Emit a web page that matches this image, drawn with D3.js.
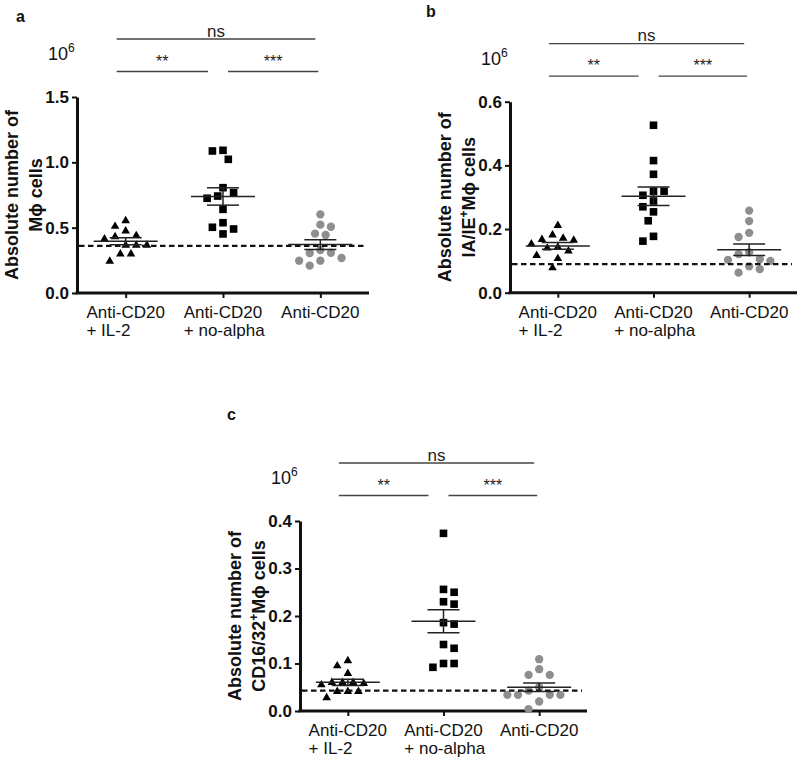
<!DOCTYPE html>
<html>
<head>
<meta charset="utf-8">
<script src="https://cdn.jsdelivr.net/npm/d3@7"></script>
<style>
  html, body { margin: 0; padding: 0; background: #fff; }
  svg { display: block; font-family: "Liberation Sans", Arial, sans-serif; }
</style>
</head>
<body>
<svg id="chart" width="800" height="759"></svg>
<script>
// ---------------- DATA (units of 10^6 cells) ----------------
const categories = ["Anti-CD20 + IL-2", "Anti-CD20 + no-alpha", "Anti-CD20"];
const categoryLine1 = ["Anti-CD20", "Anti-CD20", "Anti-CD20"];
const categoryLine2 = ["+ IL-2", "+ no-alpha", ""];

// Panel a: Mϕ cells
const aIL2     = [0.553, 0.510, 0.474, 0.439, 0.431, 0.413, 0.365, 0.365, 0.365, 0.298, 0.298, 0.243];
const aNoAlpha = [1.092, 1.087, 1.023, 0.806, 0.768, 0.742, 0.725, 0.640, 0.538, 0.503, 0.490, 0.452];
const aAnti    = [0.602, 0.523, 0.507, 0.454, 0.444, 0.329, 0.308, 0.306, 0.268, 0.247, 0.247, 0.209];
const aBaseline = 0.36;
const aTicks = [0, 0.5, 1.0, 1.5];

// Panel b: IA/IE+ Mϕ cells
const bIL2     = [0.211, 0.181, 0.171, 0.167, 0.165, 0.153, 0.143, 0.140, 0.131, 0.117, 0.107, 0.078];
const bNoAlpha = [0.526, 0.415, 0.372, 0.319, 0.319, 0.306, 0.288, 0.270, 0.254, 0.226, 0.177, 0.162];
const bAnti    = [0.258, 0.225, 0.188, 0.175, 0.127, 0.121, 0.105, 0.103, 0.100, 0.083, 0.074, 0.063];
const bBaseline = 0.09;
const bTicks = [0, 0.2, 0.4, 0.6];

// Panel c: CD16/32+ Mϕ cells
const cIL2     = [0.106, 0.095, 0.079, 0.060, 0.060, 0.060, 0.058, 0.055, 0.041, 0.041, 0.041, 0.028];
const cNoAlpha = [0.374, 0.256, 0.250, 0.230, 0.225, 0.186, 0.183, 0.140, 0.132, 0.100, 0.100, 0.092];
const cAnti    = [0.109, 0.088, 0.076, 0.076, 0.050, 0.043, 0.034, 0.034, 0.034, 0.034, 0.020, 0.004];
const cBaseline = 0.043;
const cTicks = [0, 0.1, 0.2, 0.3, 0.4];

// significance comparisons (category index pairs)
const comparisons = [
  { from: 0, to: 2, label: "ns",  level: 0 },
  { from: 0, to: 1, label: "**",  level: 1 },
  { from: 1, to: 2, label: "***", level: 1 }
];

// ---------------- LAYOUT ----------------
const panels = [
  { id: "a", series: [aIL2, aNoAlpha, aAnti], baseline: aBaseline, ticks: aTicks,
    x0: 77, yTop: 97, yBot: 293, W: 292, labelX: 16, labelY: 22,
    yLabel1: [{ t: "Absolute number of" }], yLabel2: [{ t: "Mϕ cells" }] },
  { id: "b", series: [bIL2, bNoAlpha, bAnti], baseline: bBaseline, ticks: bTicks,
    x0: 510, yTop: 101.7, yBot: 292.7, W: 287, labelX: 426, labelY: 17,
    yLabel1: [{ t: "Absolute number of" }], yLabel2: [{ t: "IA/IE" }, { t: "+", sup: true }, { t: "Mϕ cells" }] },
  { id: "c", series: [cIL2, cNoAlpha, cAnti], baseline: cBaseline, ticks: cTicks,
    x0: 300, yTop: 521, yBot: 711, W: 287, labelX: 227, labelY: 420,
    yLabel1: [{ t: "Absolute number of" }], yLabel2: [{ t: "CD16/32" }, { t: "+", sup: true }, { t: "Mϕ cells" }] }
];

const symbols = [d3.symbolTriangle, d3.symbolSquare, d3.symbolCircle];
const symbolSizes = [32, 58, 54];
const symbolColors = ["#000", "#000", "#8e8e8e"];

const svg = d3.select("#chart");

function swarm(values, y) {
  const spacing = 10.6, minDist = 9.6;
  const pts = values.map(v => ({ v, y: y(v) })).sort((a, b) => a.y - b.y);
  const placed = [];
  pts.forEach((p, i) => {
    const cands = [0];
    for (let k = 1; k < 14; k++) {
      const s = k * spacing / 2;
      if (i % 2) cands.push(-s, s); else cands.push(s, -s);
    }
    for (const dx of cands) {
      if (placed.every(q => Math.hypot(q.dx - dx, q.y - p.y) >= minDist)) { p.dx = dx; break; }
    }
    placed.push(p);
  });
  return pts;
}

panels.forEach(P => {
  const g = svg.append("g");
  const maxTick = d3.max(P.ticks);
  const y = d3.scaleLinear().domain([0, maxTick]).range([P.yBot, P.yTop]);
  const x = d3.scalePoint().domain(categories).range([P.x0, P.x0 + P.W]).padding(0.5);

  // panel letter
  g.append("text").attr("x", P.labelX).attr("y", P.labelY)
    .attr("font-size", 16).attr("font-weight", "bold").attr("fill", "#111").text(P.id);

  // y axis
  const yAxis = g.append("g").attr("transform", `translate(${P.x0},0)`)
    .call(d3.axisLeft(y).tickValues(P.ticks).tickFormat(d3.format(".1f")).tickSize(5).tickSizeOuter(0).tickPadding(3));
  yAxis.select(".domain").attr("stroke", "#111").attr("stroke-width", 3);
  yAxis.selectAll(".tick line").attr("stroke", "#111").attr("stroke-width", 2);
  yAxis.selectAll(".tick text").attr("font-size", 17).attr("font-weight", "bold").attr("fill", "#111")
    .attr("font-family", "'Liberation Sans', Arial, sans-serif");

  // x axis
  const xAxis = g.append("g").attr("transform", `translate(0,${P.yBot})`)
    .call(d3.axisBottom(x).tickSize(5).tickSizeOuter(0).tickFormat(""));
  xAxis.select(".domain").attr("stroke", "#111").attr("stroke-width", 3)
    .attr("d", `M${P.x0 - 1.5},0H${P.x0 + P.W}`);
  xAxis.selectAll(".tick line").attr("stroke", "#111").attr("stroke-width", 2);
  categories.forEach((c, i) => {
    const cx = x(c);
    const t1 = g.append("text").attr("x", cx).attr("y", P.yBot + 25)
      .attr("text-anchor", "middle").attr("font-size", 17).attr("fill", "#111").text(categoryLine1[i]);
    const len = t1.node().getComputedTextLength();
    if (categoryLine2[i]) {
      g.append("text").attr("x", cx - len / 2).attr("y", P.yBot + 43)
        .attr("font-size", 17).attr("fill", "#111").text(categoryLine2[i]);
    }
  });

  // y label (two lines, rotated)
  const cy = (P.yTop + P.yBot) / 2;
  [[P.yLabel1, P.x0 - 59], [P.yLabel2, P.x0 - 35]].forEach(([parts, bx]) => {
    const t = g.append("text").attr("transform", `translate(${bx},${cy}) rotate(-90)`)
      .attr("text-anchor", "middle").attr("font-size", 18).attr("font-weight", "bold").attr("fill", "#111");
    parts.forEach((p, k) => {
      const ts = t.append("tspan").text(p.t);
      if (p.sup) ts.attr("font-size", 12).attr("dy", -7);
      else if (k > 0 && parts[k - 1].sup) ts.attr("dy", 7);
    });
  });

  // 10^6 multiplier
  const m = g.append("text").attr("x", P.x0 - 29).attr("y", P.yTop - 37)
    .attr("font-size", 18).attr("fill", "#111");
  m.append("tspan").text("10");
  m.append("tspan").attr("font-size", 12).attr("dy", -8).text("6");

  // points
  P.series.forEach((vals, i) => {
    const cx = x(categories[i]);
    const pts = swarm(vals, y);
    g.append("g").selectAll("path").data(pts).join("path")
      .attr("d", d3.symbol().type(symbols[i]).size(symbolSizes[i]))
      .attr("transform", d => `translate(${cx + d.dx},${d.y})`)
      .attr("fill", symbolColors[i]);
  });

  // baseline dashed line
  g.append("line").attr("x1", P.x0 + 2).attr("x2", P.x0 + P.W - 5)
    .attr("y1", y(P.baseline)).attr("y2", y(P.baseline))
    .attr("stroke", "#111").attr("stroke-width", 2.2).attr("stroke-dasharray", "5.5,3.5");

  // mean ± SEM
  P.series.forEach((vals, i) => {
    const cx = x(categories[i]);
    const mean = d3.mean(vals);
    const sem = d3.deviation(vals) / Math.sqrt(vals.length);
    const lg = g.append("g").attr("stroke", "#222").attr("stroke-width", 1.5);
    lg.append("line").attr("x1", cx - 32).attr("x2", cx + 32).attr("y1", y(mean)).attr("y2", y(mean));
    lg.append("line").attr("x1", cx - 16).attr("x2", cx + 16).attr("y1", y(mean + sem)).attr("y2", y(mean + sem));
    lg.append("line").attr("x1", cx - 16).attr("x2", cx + 16).attr("y1", y(mean - sem)).attr("y2", y(mean - sem));
    lg.append("line").attr("x1", cx).attr("x2", cx).attr("y1", y(mean + sem)).attr("y2", y(mean - sem));
  });

  // significance brackets
  comparisons.forEach(cmp => {
    const xa = x(categories[cmp.from]), xb = x(categories[cmp.to]);
    let x1, x2;
    if (cmp.level === 0) { x1 = xa - 9; x2 = xb - 5; }
    else if (cmp.from === 0) { x1 = xa - 9; x2 = xb - 15; }
    else { x1 = xa + 5; x2 = xb - 2; }
    const ly = cmp.level === 0 ? P.yTop - 58 : P.yTop - 25.5;
    g.append("line").attr("x1", x1).attr("x2", x2).attr("y1", ly).attr("y2", ly)
      .attr("stroke", "#444").attr("stroke-width", 1.3);
    const tx = (x1 + x2) / 2;
    if (cmp.label === "ns") {
      g.append("text").attr("x", tx).attr("y", ly - 2.5).attr("text-anchor", "middle")
        .attr("font-size", 17).attr("fill", "#222").text(cmp.label);
    } else {
      g.append("text").attr("x", tx).attr("y", ly - 5).attr("text-anchor", "middle")
        .attr("font-size", 16).attr("fill", "#222").text(cmp.label);
    }
  });
});
</script>
</body>
</html>
